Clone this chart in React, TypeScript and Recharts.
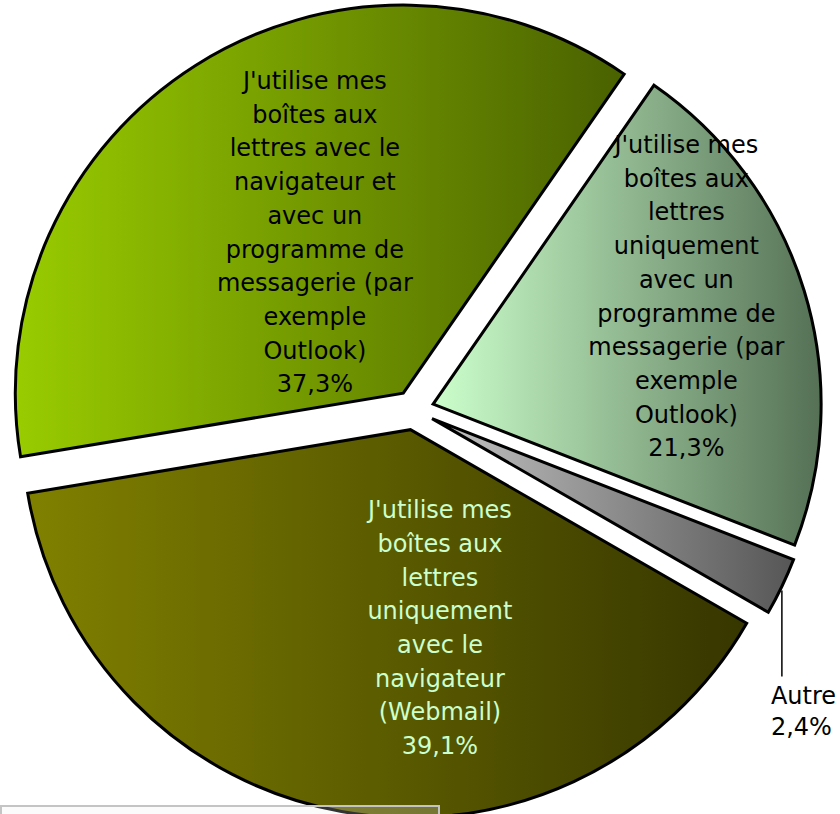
import React from 'react'
import { PieChart, Pie, Cell } from 'recharts'

// slices in drawing order (counter-clockwise from the top-right edge)
const categories = [
  "J'utilise mes boîtes aux lettres avec le navigateur et avec un programme de messagerie (par exemple Outlook)",
  "J'utilise mes boîtes aux lettres uniquement avec le navigateur (Webmail)",
  'Autre',
  "J'utilise mes boîtes aux lettres uniquement avec un programme de messagerie (par exemple Outlook)"
]
const shares = [37.3, 39.1, 2.4, 21.3]
const labelLines = [
  ["J'utilise mes", 'boîtes aux', 'lettres avec le', 'navigateur et', 'avec un', 'programme de', 'messagerie (par', 'exemple', 'Outlook)'],
  ["J'utilise mes", 'boîtes aux', 'lettres', 'uniquement', 'avec le', 'navigateur', '(Webmail)'],
  ['Autre'],
  ["J'utilise mes", 'boîtes aux', 'lettres', 'uniquement', 'avec un', 'programme de', 'messagerie (par', 'exemple', 'Outlook)']
]

const gradients = [
  ['#99cc00', '#4a6100'],
  ['#808000', '#363600'],
  ['#c4c4c4', '#565656'],
  ['#ccffcc', '#557055']
]
const textColors = ['#000', '#ccffcc', '#000', '#000']
// label placement inside each slice: fraction of radius, angle shift (deg)
const labelPlace = [
  { r: 0.472, da: -3.5 },
  { r: 0.517, da: 18.7 },
  null,
  { r: 0.709, da: 6 }
]

const W = 840
const H = 814
const CX = 414
const CY = 410
const R = 388
const EXPLODE = 20
const START = 55.3
const FONT = "Tahoma, 'DejaVu Sans', sans-serif"
const FS = 24
const LH = 33.7

const rows = categories.map((name, i) => ({ name, value: shares[i] }))
const total = shares.reduce((a, b) => a + b, 0)
const RAD = Math.PI / 180

// mid angle of each slice, used to push it out from the centre
const midAngles = shares.map((v, i) => {
  const before = shares.slice(0, i).reduce((a, b) => a + b, 0)
  return START + (360 * (before + v / 2)) / total
})

const fmt = (v: number) => v.toFixed(1).replace('.', ',') + '%'

function makeLabel(slice: number) {
  return (props: any) => {
    const { cx, cy, midAngle, outerRadius, index, value } = props
    if (index !== slice) return null
    const lines = [...labelLines[index], fmt(value)]
    const place = labelPlace[index]
    if (!place) {
      // outside label with a vertical leader line
      const ox = cx + outerRadius * Math.cos(-midAngle * RAD)
      const oy = cy + outerRadius * Math.sin(-midAngle * RAD)
      return (
        <g>
          <line x1={ox} y1={oy + 4} x2={ox} y2={oy + 90} stroke="#000" strokeWidth={1.5} />
          <text fontFamily={FONT} fontSize={FS} fill="#000" dominantBaseline="central">
            {lines.map((t, k) => (
              <tspan key={k} x={ox - 11} y={oy + 110 + k * 31}>{t}</tspan>
            ))}
          </text>
        </g>
      )
    }
    const a = (midAngle + place.da) * RAD
    const x = cx + outerRadius * place.r * Math.cos(a)
    const y = cy - outerRadius * place.r * Math.sin(a)
    const y0 = y - ((lines.length - 1) / 2) * LH
    return (
      <text fontFamily={FONT} fontSize={FS} fill={textColors[index]} textAnchor="middle" dominantBaseline="central">
        {lines.map((t, k) => (
          <tspan key={k} x={x} y={y0 + k * LH}>{t}</tspan>
        ))}
      </text>
    )
  }
}

export default function App() {
  return (
    <div style={{ position: 'absolute', left: 0, top: 0, width: W, height: H, overflow: 'hidden', background: '#fff' }}>
      <PieChart width={W} height={H} margin={{ top: 0, right: 0, bottom: 0, left: 0 }}>
        <defs>
          {gradients.map(([c1, c2], i) => (
            <linearGradient key={i} id={`grad${i}`} x1="0" y1="0" x2="1" y2="0">
              <stop offset="0%" stopColor={c1} />
              <stop offset="100%" stopColor={c2} />
            </linearGradient>
          ))}
        </defs>
        {midAngles.map((mid, i) => (
          <Pie
            key={i}
            data={rows}
            dataKey="value"
            nameKey="name"
            cx={CX + EXPLODE * Math.cos(mid * RAD)}
            cy={CY - EXPLODE * Math.sin(mid * RAD)}
            innerRadius={0}
            outerRadius={R}
            startAngle={START}
            endAngle={START + 360}
            label={makeLabel(i)}
            labelLine={false}
            isAnimationActive={false}
          >
            {rows.map((_, j) => (
              <Cell
                key={j}
                fill={j === i ? `url(#grad${j})` : 'none'}
                stroke={j === i ? '#000' : 'none'}
                strokeWidth={3}
                strokeLinejoin="miter"
              />
            ))}
          </Pie>
        ))}
      </PieChart>
      <div
        style={{
          position: 'absolute',
          left: 0,
          top: 805,
          width: 436,
          height: 20,
          border: '2px solid #c4c4c4',
          background: 'rgba(235,235,235,0.22)'
        }}
      />
    </div>
  )
}
